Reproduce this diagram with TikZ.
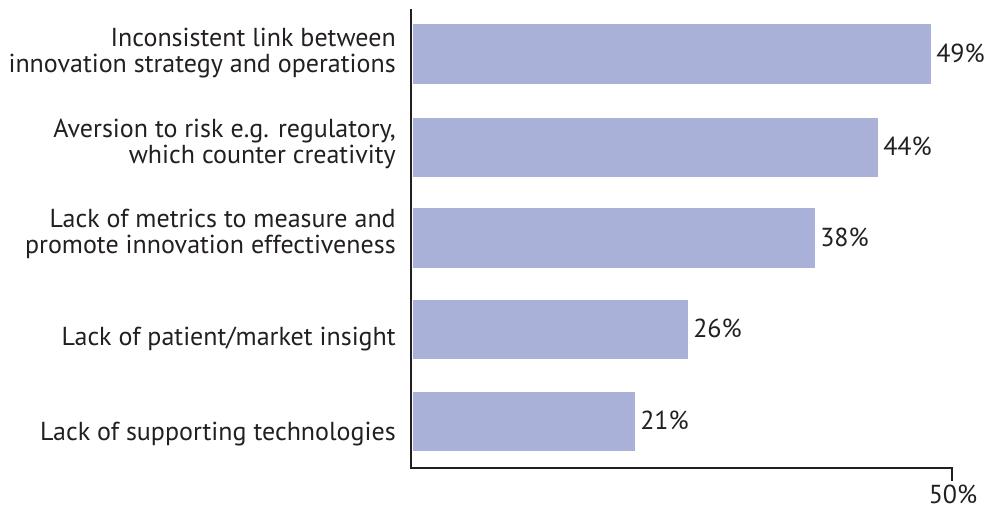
\documentclass[tikz,border=0pt]{standalone}
\usepackage{xcolor}
\usepackage{fontspec}
\setmainfont{PT Sans}
\usepackage{tikz}

\definecolor{barblue}{RGB}{169,177,216}
\definecolor{inkgray}{RGB}{35,31,32}

\begin{document}
\begin{tikzpicture}[x=0.75pt,y=0.75pt,yscale=-1,xscale=1,
  every node/.style={text=inkgray, font=\fontsize{19.5}{19.5}\selectfont},
  bar/.style={fill=barblue, draw=none},
  cat/.style={anchor=east, inner sep=0.75pt, align=right},
  pct/.style={anchor=west, inner sep=0.75pt}]
\useasboundingbox (0,0) rectangle (987,510);

%Shape: Rectangle [bars]
\fill [bar] (413,24) rectangle (931,84);
\fill [bar] (413,118) rectangle (878,177);
\fill [bar] (413,208) rectangle (815,268);
\fill [bar] (413,300) rectangle (688,359);
\fill [bar] (413,392) rectangle (635,451);

%Straight Lines [axes]
\draw [inkgray, line width=1.9pt] (411,9) -- (411,468) -- (952,468) -- (952,481);

% Text Node
\node (c1) [cat] at (397,53) {Inconsistent link between\\innovation strategy and operations};
% Text Node
\node (c2) [cat] at (397,144) {Aversion to risk e.g. regulatory,\\which counter creativity};
% Text Node
\node (c3) [cat] at (397,234) {Lack of metrics to measure and\\promote innovation effectiveness};
% Text Node
\node (c4) [cat] at (397,339) {Lack of patient/market insight};
% Text Node
\node (c5) [cat] at (397,434) {Lack of supporting technologies};

% Text Node
\node (v1) [pct] at (935,53) {49\%};
% Text Node
\node (v2) [pct] at (882,146.5) {44\%};
% Text Node
\node (v3) [pct] at (819,237) {38\%};
% Text Node
\node (v4) [pct] at (692,328.5) {26\%};
% Text Node
\node (v5) [pct] at (639,420.5) {21\%};

% Text Node
\node (tick) [anchor=base, inner sep=0pt] at (953,503) {50\%};

\end{tikzpicture}
\end{document}
